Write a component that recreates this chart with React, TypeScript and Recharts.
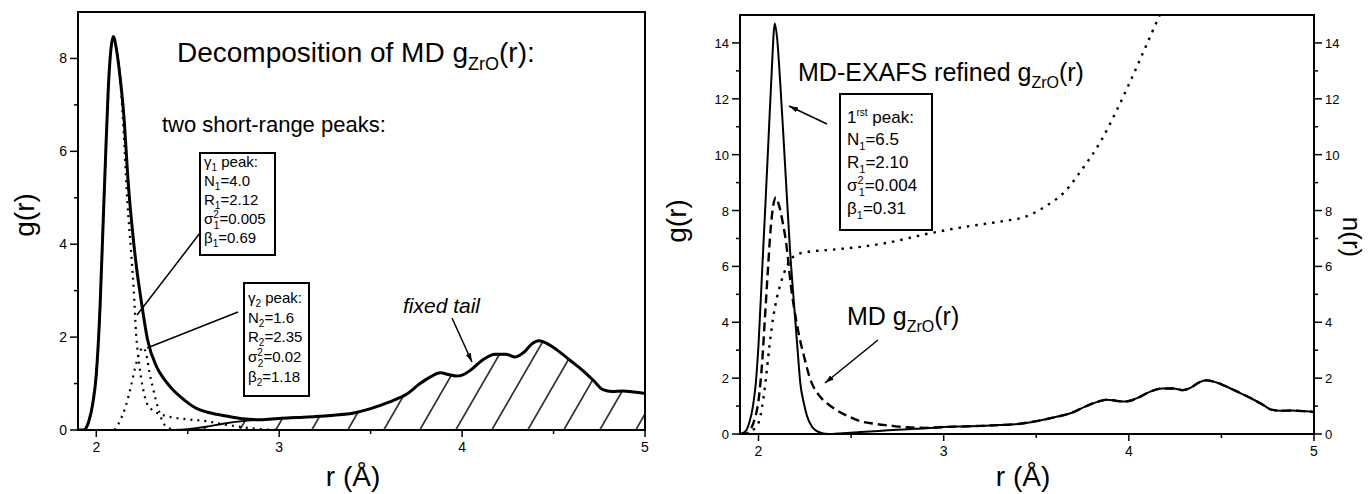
import React from "react";
import {
  ComposedChart,
  Line,
  Area,
  XAxis,
  YAxis,
  ReferenceArea,
} from "recharts";

const FONT = "'Liberation Sans', Arial, Helvetica, sans-serif";

// MD g_ZrO(r), shared by both panels
const mdR = [1.9, 1.93, 1.96, 1.98, 2.0, 2.02, 2.035, 2.05, 2.065, 2.08, 2.093, 2.11, 2.13, 2.15, 2.175, 2.2, 2.22, 2.245, 2.28, 2.33, 2.37, 2.42, 2.48, 2.545, 2.62, 2.71, 2.8, 2.9, 3.0, 3.1, 3.2, 3.3, 3.4, 3.5, 3.6, 3.7, 3.77, 3.83, 3.88, 3.93, 3.97, 4.0, 4.05, 4.11, 4.18, 4.24, 4.29, 4.34, 4.38, 4.42, 4.47, 4.52, 4.6, 4.66, 4.72, 4.77, 4.82, 4.88, 4.94, 5.0];
const mdG = [0, 0, 0.2, 0.55, 1.2, 2.6, 4.2, 5.8, 7.3, 8.2, 8.47, 8.2, 7.6, 6.8, 5.3, 4.2, 3.5, 2.8, 1.95, 1.36, 1.1, 0.86, 0.65, 0.47, 0.37, 0.3, 0.24, 0.22, 0.25, 0.27, 0.29, 0.32, 0.36, 0.46, 0.6, 0.78, 1.0, 1.15, 1.23, 1.19, 1.16, 1.18, 1.3, 1.5, 1.63, 1.63, 1.57, 1.68, 1.85, 1.92, 1.85, 1.72, 1.47, 1.28, 1.06, 0.87, 0.83, 0.84, 0.82, 0.79];

// gamma1 peak (dotted)
const g1R = [1.93, 1.96, 1.98, 2.0, 2.02, 2.035, 2.05, 2.065, 2.08, 2.093, 2.11, 2.13, 2.15, 2.17, 2.19, 2.208, 2.217, 2.226, 2.244, 2.27, 2.3, 2.35, 2.42, 2.5, 2.6, 2.7, 2.8, 2.9, 3.0, 5.0];
const g1G = [0, 0.2, 0.55, 1.2, 2.6, 4.2, 5.8, 7.3, 8.2, 8.45, 8.2, 7.6, 6.4, 4.9, 3.85, 2.8, 2.1, 1.7, 1.15, 0.65, 0.45, 0.34, 0.27, 0.23, 0.19, 0.12, 0.06, 0.02, 0, 0];

// gamma2 peak (dotted)
const g2R = [2.1, 2.13, 2.16, 2.19, 2.21, 2.235, 2.255, 2.275, 2.29, 2.31, 2.326, 2.345, 2.36, 2.38, 2.41, 2.45, 5.0];
const g2G = [0, 0.2, 0.5, 0.95, 1.3, 1.65, 1.78, 1.6, 1.25, 0.9, 0.64, 0.38, 0.2, 0.08, 0.02, 0, 0];

// fixed tail (hatched)
const tailR = [2.4, 2.5, 2.6, 2.7, 2.8, 2.9, 3.0, 3.1, 3.2, 3.3, 3.4, 3.5, 3.6, 3.7, 3.77, 3.83, 3.88, 3.93, 3.97, 4.0, 4.05, 4.11, 4.18, 4.24, 4.29, 4.34, 4.38, 4.42, 4.47, 4.52, 4.6, 4.66, 4.72, 4.77, 4.82, 4.88, 4.94, 5.0];
const tailG = [0, 0.02, 0.07, 0.14, 0.19, 0.22, 0.25, 0.27, 0.29, 0.32, 0.36, 0.46, 0.6, 0.78, 1.0, 1.15, 1.23, 1.19, 1.16, 1.18, 1.3, 1.5, 1.63, 1.63, 1.57, 1.68, 1.85, 1.92, 1.85, 1.72, 1.47, 1.28, 1.06, 0.87, 0.83, 0.84, 0.82, 0.79];

// MD-EXAFS refined g_ZrO(r)
const refR = [1.9, 1.93, 1.95, 1.97, 1.985, 2.0, 2.02, 2.04, 2.055, 2.07, 2.088, 2.1, 2.118, 2.135, 2.154, 2.17, 2.19, 2.21, 2.226, 2.245, 2.262, 2.29, 2.316, 2.35, 2.4, 2.45, 2.55, 2.65, 2.75, 2.85, 2.95, 3.0, 3.1, 3.2, 3.3, 3.4, 3.5, 3.6, 3.7, 3.77, 3.83, 3.88, 3.93, 3.97, 4.0, 4.05, 4.11, 4.18, 4.24, 4.29, 4.34, 4.38, 4.42, 4.47, 4.52, 4.6, 4.66, 4.72, 4.77, 4.82, 4.88, 4.94, 5.0];
const refG = [0, 0.1, 0.4, 1.0, 1.8, 3.2, 5.9, 8.6, 10.7, 12.8, 14.7, 14.2, 12.5, 10.6, 8.4, 6.6, 4.8, 3.1, 1.8, 1.1, 0.64, 0.25, 0.1, 0.02, 0, 0.03, 0.07, 0.11, 0.15, 0.19, 0.22, 0.25, 0.27, 0.29, 0.32, 0.36, 0.46, 0.6, 0.78, 1.0, 1.15, 1.23, 1.19, 1.16, 1.18, 1.3, 1.5, 1.63, 1.63, 1.57, 1.68, 1.85, 1.92, 1.85, 1.72, 1.47, 1.28, 1.06, 0.87, 0.83, 0.84, 0.82, 0.79];

// running coordination number n(r)
const nR = [1.93, 1.96, 2.0, 2.02, 2.04, 2.06, 2.08, 2.1, 2.12, 2.14, 2.16, 2.18, 2.2, 2.25, 2.4, 2.55, 2.7, 2.9, 3.1, 3.3, 3.45, 3.55, 3.65, 3.75, 3.85, 3.95, 4.04, 4.12, 4.2];
const nN = [0, 0.1, 0.4, 1.0, 2.0, 3.2, 4.2, 4.9, 5.4, 5.8, 6.1, 6.3, 6.4, 6.5, 6.6, 6.7, 6.85, 7.15, 7.4, 7.6, 7.8, 8.15, 8.65, 9.5, 10.5, 11.8, 13.1, 14.3, 15.5];

const xTicks = [2, 2.5, 3, 3.5, 4, 4.5, 5];
const leftYTicks = [0, 1, 2, 3, 4, 5, 6, 7, 8];
const rightYTicks = [0, 1, 2, 3, 4, 5, 6, 7, 8, 9, 10, 11, 12, 13, 14];

const pts = (rs: number[], vs: number[]) => rs.map((r, i) => ({ r, v: vs[i] }));

const XTick = ({ x, y, payload }: any) => {
  const major = Number.isInteger(payload.value);
  return (
    <g>
      <line x1={x} x2={x} y1={y} y2={y + (major ? 7 : 4)} stroke="#000" strokeWidth={1.5} />
      {major && (
        <text x={x} y={y + 22} textAnchor="middle" fontSize={14} fontFamily={FONT} fill="#000">
          {payload.value}
        </text>
      )}
    </g>
  );
};

const makeYTick = (side: "left" | "right", size: number) => ({ x, y, payload }: any) => {
  const major = payload.value % 2 === 0;
  const s = side === "left" ? -1 : 1;
  const len = major ? 8 : 4;
  return (
    <g>
      <line x1={x} x2={x + s * len} y1={y} y2={y} stroke="#000" strokeWidth={1.5} />
      {major && (
        <text
          x={x + s * (len + 3)}
          y={y + 5}
          textAnchor={side === "left" ? "end" : "start"}
          fontSize={size}
          fontFamily={FONT}
          fill="#000"
        >
          {payload.value}
        </text>
      )}
    </g>
  );
};

const Sub = ({ t, d = 4, fs = 10 }: { t: string; d?: number; fs?: number }) => (
  <tspan dy={d} fontSize={fs}>{t}</tspan>
);

function LeftChart() {
  return (
    <ComposedChart
      width={680}
      height={494}
      margin={{ top: 12, right: 35, bottom: 34, left: 38 }}
      style={{ position: "absolute", left: 0, top: 0 }}
    >
      <XAxis
        type="number"
        dataKey="r"
        domain={[1.9, 5]}
        ticks={xTicks}
        interval={0}
        tick={<XTick />}
        tickSize={0}
        tickMargin={0}
        tickLine={false}
        axisLine={false}
        height={30}
        allowDataOverflow
      />
      <YAxis
        type="number"
        domain={[0, 9]}
        ticks={leftYTicks}
        interval={0}
        tick={makeYTick("left", 14)}
        tickSize={0}
        tickMargin={0}
        tickLine={false}
        axisLine={false}
        width={40}
        allowDataOverflow
      />
      <ReferenceArea x1={1.9} x2={5} y1={0} y2={9} fill="none" stroke="#000" strokeWidth={2} />
      <Area
        data={pts(tailR, tailG)}
        dataKey="v"
        type="monotone"
        stroke="#000"
        strokeWidth={1.8}
        fill="url(#hatch)"
        fillOpacity={1}
        dot={false}
        activeDot={false}
        isAnimationActive={false}
      />
      <Line
        data={pts(g1R, g1G)}
        dataKey="v"
        type="monotone"
        stroke="#000"
        strokeWidth={2.2}
        strokeDasharray="2 5"
        dot={false}
        activeDot={false}
        isAnimationActive={false}
      />
      <Line
        data={pts(g2R, g2G)}
        dataKey="v"
        type="monotone"
        stroke="#000"
        strokeWidth={2.2}
        strokeDasharray="2 5"
        dot={false}
        activeDot={false}
        isAnimationActive={false}
      />
      <Line
        data={pts(mdR, mdG)}
        dataKey="v"
        type="monotone"
        stroke="#000"
        strokeWidth={3}
        dot={false}
        activeDot={false}
        isAnimationActive={false}
      />
    </ComposedChart>
  );
}

function RightChart() {
  return (
    <ComposedChart
      width={691}
      height={494}
      margin={{ top: 15, right: 17, bottom: 30, left: 20 }}
      style={{ position: "absolute", left: 680, top: 0 }}
    >
      <XAxis
        type="number"
        dataKey="r"
        domain={[1.9, 5]}
        ticks={xTicks}
        interval={0}
        tick={<XTick />}
        tickSize={0}
        tickMargin={0}
        tickLine={false}
        axisLine={false}
        height={30}
        allowDataOverflow
      />
      <YAxis
        yAxisId="g"
        type="number"
        domain={[0, 15]}
        ticks={rightYTicks}
        interval={0}
        tick={makeYTick("left", 13)}
        tickSize={0}
        tickMargin={0}
        tickLine={false}
        axisLine={false}
        width={40}
        allowDataOverflow
      />
      <YAxis
        yAxisId="n"
        orientation="right"
        type="number"
        domain={[0, 15]}
        ticks={rightYTicks}
        interval={0}
        tick={makeYTick("right", 13)}
        tickSize={0}
        tickMargin={0}
        tickLine={false}
        axisLine={false}
        width={40}
        allowDataOverflow
      />
      <ReferenceArea yAxisId="g" x1={1.9} x2={5} y1={0} y2={15} fill="none" stroke="#000" strokeWidth={2} />
      <Line
        yAxisId="n"
        data={pts(nR, nN)}
        dataKey="v"
        type="monotone"
        stroke="#000"
        strokeWidth={2.4}
        strokeDasharray="2.5 6"
        dot={false}
        activeDot={false}
        isAnimationActive={false}
      />
      <Line
        yAxisId="g"
        data={pts(mdR, mdG)}
        dataKey="v"
        type="monotone"
        stroke="#000"
        strokeWidth={2.4}
        strokeDasharray="9 5"
        dot={false}
        activeDot={false}
        isAnimationActive={false}
      />
      <Line
        yAxisId="g"
        data={pts(refR, refG)}
        dataKey="v"
        type="monotone"
        stroke="#000"
        strokeWidth={2}
        dot={false}
        activeDot={false}
        isAnimationActive={false}
      />
    </ComposedChart>
  );
}

function Overlay() {
  const t = { fontFamily: FONT, fill: "#000" } as const;
  const box = (x: number, y: number, w: number, h: number) => (
    <rect x={x} y={y} width={w} height={h} fill="#fff" stroke="#000" strokeWidth={2} />
  );
  return (
    <svg
      width={1371}
      height={494}
      style={{ position: "absolute", left: 0, top: 0, pointerEvents: "none" }}
    >
      <defs>
        <pattern id="hatch" patternUnits="userSpaceOnUse" width={36} height={36} patternTransform="skewX(-30)">
          <line x1={20} y1={-5} x2={20} y2={41} stroke="#000" strokeWidth={1.6} />
        </pattern>
        <marker id="arr" viewBox="0 0 10 10" refX={10} refY={5} markerUnits="userSpaceOnUse" markerWidth={9} markerHeight={9} orient="auto">
          <path d="M0,2 L10,5 L0,8 z" fill="#000" />
        </marker>
      </defs>

      {/* left panel */}
      <text {...t} fontSize={28} transform="translate(34,215) rotate(-90)" textAnchor="middle">g(r)</text>
      <text {...t} fontSize={28} x={353} y={486} textAnchor="middle">r (Å)</text>
      <text {...t} fontSize={28} x={177} y={62}>
        Decomposition of MD g<Sub t="ZrO" d={8} fs={18} />
        <tspan dy={-8}>(r):</tspan>
      </text>
      <text {...t} fontSize={22} x={162} y={132}>two short-range peaks:</text>

      <line x1={200} y1={233} x2={137} y2={315} stroke="#000" strokeWidth={1.5} />
      <line x1={238} y1={312} x2={147} y2={348} stroke="#000" strokeWidth={1.5} />
      {box(200, 153, 75, 102)}
      <g {...t} fontSize={15}>
        <text x={204} y={167}>γ<Sub t="1" /><tspan dy={-4}> peak:</tspan></text>
        <text x={204} y={186}>N<Sub t="1" /><tspan dy={-4}>=4.0</tspan></text>
        <text x={204} y={205}>R<Sub t="1" /><tspan dy={-4}>=2.12</tspan></text>
        <text x={204} y={224}>σ<tspan dy={-6} fontSize={10}>2</tspan><tspan dx={-5} dy={11} fontSize={10}>1</tspan><tspan dy={-5}>=0.005</tspan></text>
        <text x={204} y={243}>β<Sub t="1" /><tspan dy={-4}>=0.69</tspan></text>
      </g>
      {box(244, 283, 65, 113)}
      <g {...t} fontSize={15}>
        <text x={248} y={303}>γ<Sub t="2" /><tspan dy={-4}> peak:</tspan></text>
        <text x={248} y={323}>N<Sub t="2" /><tspan dy={-4}>=1.6</tspan></text>
        <text x={248} y={342}>R<Sub t="2" /><tspan dy={-4}>=2.35</tspan></text>
        <text x={248} y={362}>σ<tspan dy={-6} fontSize={10}>2</tspan><tspan dx={-5} dy={11} fontSize={10}>2</tspan><tspan dy={-5}>=0.02</tspan></text>
        <text x={248} y={382}>β<Sub t="2" /><tspan dy={-4}>=1.18</tspan></text>
      </g>

      <text {...t} fontSize={21} fontStyle="italic" x={403} y={313}>fixed tail</text>
      <line x1={452} y1={318} x2={472} y2={362} stroke="#000" strokeWidth={1.5} markerEnd="url(#arr)" />

      {/* right panel */}
      <text {...t} fontSize={28} transform="translate(686,221) rotate(-90)" textAnchor="middle">g(r)</text>
      <text {...t} fontSize={26} transform="translate(1343,237) rotate(90)" textAnchor="middle">n(r)</text>
      <text {...t} fontSize={28} x={1023} y={486} textAnchor="middle">r (Å)</text>
      <text {...t} fontSize={25} x={798} y={81}>
        MD-EXAFS refined g<Sub t="ZrO" d={7} fs={16} />
        <tspan dy={-7}>(r)</tspan>
      </text>
      {box(840, 94, 92, 136)}
      <g {...t} fontSize={17}>
        <text x={847} y={123}>1<tspan dy={-7} fontSize={10}>rst</tspan><tspan dy={7}> peak:</tspan></text>
        <text x={847} y={145}>N<Sub t="1" d={5} fs={11} /><tspan dy={-5}>=6.5</tspan></text>
        <text x={847} y={168}>R<Sub t="1" d={5} fs={11} /><tspan dy={-5}>=2.10</tspan></text>
        <text x={847} y={191}>σ<tspan dy={-7} fontSize={11}>2</tspan><tspan dx={-5} dy={12} fontSize={11}>1</tspan><tspan dy={-5}>=0.004</tspan></text>
        <text x={847} y={214}>β<Sub t="1" d={5} fs={11} /><tspan dy={-5}>=0.31</tspan></text>
      </g>
      <line x1={827} y1={124} x2={789} y2={106} stroke="#000" strokeWidth={1.5} markerEnd="url(#arr)" />
      <text {...t} fontSize={25} x={847} y={325}>
        MD g<Sub t="ZrO" d={7} fs={16} />
        <tspan dy={-7}>(r)</tspan>
      </text>
      <line x1={878} y1={340} x2={825} y2={383} stroke="#000" strokeWidth={1.5} markerEnd="url(#arr)" />
    </svg>
  );
}

export default function App() {
  return (
    <div style={{ position: "absolute", left: 0, top: 0, width: 1371, height: 494, background: "#fff" }}>
      <LeftChart />
      <RightChart />
      <Overlay />
    </div>
  );
}
